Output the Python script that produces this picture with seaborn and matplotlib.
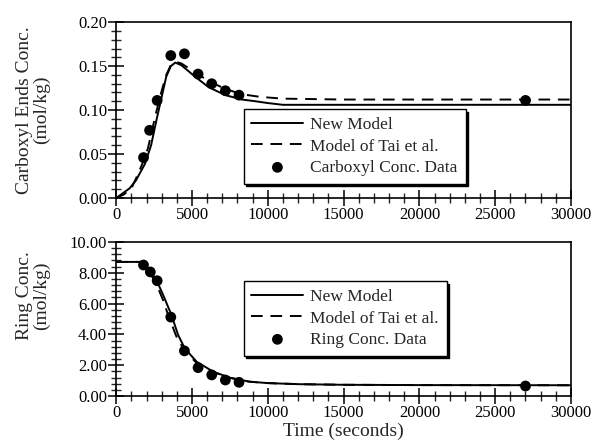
import numpy as np
import pandas as pd
import seaborn as sns
import matplotlib.pyplot as plt
from matplotlib.ticker import MultipleLocator, FormatStrFormatter

sns.set_style("ticks")
plt.rcParams['font.family'] = ['Liberation Serif', 'DejaVu Serif']

# carboxyl ends, new model (solid)
carb_new_t = [0, 880, 1300, 1900, 2300, 2660, 3000, 3300, 3600, 3900, 4300, 5200,
              6100, 7200, 8300, 9200, 10000, 11000, 30000]
carb_new_c = [0.0, 0.011, 0.020, 0.039, 0.060, 0.089, 0.115, 0.138, 0.150, 0.154,
              0.151, 0.138, 0.126, 0.117, 0.112, 0.110, 0.108, 0.106, 0.106]
# carboxyl ends, model of Tai et al. (dashed)
carb_tai_t = [0, 500, 1000, 1300, 1700, 2100, 2600, 3000, 3300, 3600, 3900, 4300,
              5200, 6100, 7200, 8300, 9500, 11000, 15000, 30000]
carb_tai_c = [0.0, 0.004, 0.011, 0.022, 0.038, 0.057, 0.095, 0.122, 0.140, 0.151,
              0.155, 0.153, 0.143, 0.133, 0.124, 0.118, 0.115, 0.113, 0.112, 0.112]
# carboxyl data
carb_data_t = [1800, 2200, 2700, 3600, 4500, 5400, 6300, 7200, 8100, 27000]
carb_data_c = [0.046, 0.077, 0.111, 0.162, 0.164, 0.141, 0.130, 0.122, 0.117, 0.111]

# ring conc., new model
ring_new_t = [0, 1600, 2000, 2430, 2800, 3090, 3640, 4080, 4520, 5300, 6400, 7500,
              8800, 10000, 12000, 15000, 20000, 30000]
ring_new_c = [8.70, 8.70, 8.35, 7.87, 7.20, 6.57, 5.27, 3.97, 3.10, 2.23, 1.58, 1.19,
              0.93, 0.84, 0.77, 0.73, 0.71, 0.70]
# ring conc., Tai et al.
ring_tai_t = [0, 1600, 2000, 2400, 2760, 3100, 3420, 3970, 4500, 5300, 6400, 7500,
              8800, 10000, 12000, 15000, 20000, 30000]
ring_tai_c = [8.70, 8.70, 8.30, 7.70, 7.00, 6.20, 5.27, 3.86, 2.95, 2.15, 1.55, 1.18,
              0.93, 0.84, 0.77, 0.73, 0.71, 0.70]
# ring data
ring_data_t = [1800, 2250, 2700, 3600, 4500, 5400, 6300, 7200, 8100, 27000]
ring_data_c = [8.50, 8.05, 7.48, 5.12, 2.93, 1.84, 1.37, 1.04, 0.89, 0.65]

fig = plt.figure(figsize=(5.96, 4.43), dpi=100)
ax1 = fig.add_axes([0.195, 0.553, 0.763, 0.397])
ax2 = fig.add_axes([0.195, 0.106, 0.763, 0.348])

dash = (0, (6, 4))


def draw(ax, t_new, c_new, t_tai, c_tai, t_dat, c_dat, data_label):
    sns.lineplot(x=t_new, y=c_new, ax=ax, color='black', lw=1.4, label='New Model')
    sns.lineplot(x=t_tai, y=c_tai, ax=ax, color='black', lw=1.4, linestyle=dash,
                 label='Model of Tai et al.')
    sns.scatterplot(x=t_dat, y=c_dat, ax=ax, color='black', s=60, edgecolor='none',
                    label=data_label, zorder=3)
    ax.set_xlim(0, 30000)
    ax.xaxis.set_major_locator(MultipleLocator(5000))
    ax.xaxis.set_minor_locator(MultipleLocator(1000))
    ax.xaxis.set_major_formatter(FormatStrFormatter('%d'))
    ax.tick_params(which='major', direction='inout', length=11, width=1.1,
                   labelsize=12, pad=1, colors='black')
    ax.tick_params(which='minor', direction='inout', length=7, width=1.0)
    for s in ax.spines.values():
        s.set_linewidth(1.2)
        s.set_color('black')
    leg = ax.legend(fontsize=12.5, frameon=True, fancybox=False, edgecolor='black',
                    framealpha=1, shadow={'color': 'black', 'alpha': 1},
                    handlelength=3, labelspacing=0.3, borderpad=0.45,
                    handletextpad=0.4, borderaxespad=0, loc='upper left')
    leg.get_frame().set_linewidth(1.0)
    return leg


leg1 = draw(ax1, carb_new_t, carb_new_c, carb_tai_t, carb_tai_c,
            carb_data_t, carb_data_c, 'Carboxyl Conc. Data')
leg1.set_bbox_to_anchor((0.28, 0.505), transform=ax1.transAxes)
ax1.set_ylim(0, 0.20)
ax1.yaxis.set_major_locator(MultipleLocator(0.05))
ax1.yaxis.set_minor_locator(MultipleLocator(0.01))
ax1.yaxis.set_major_formatter(FormatStrFormatter('%.2f'))
ax1.set_ylabel('Carboxyl Ends Conc.\n(mol/kg)', fontsize=14, linespacing=1.0)
ax1.yaxis.set_label_coords(-0.145, 0.5)

leg2 = draw(ax2, ring_new_t, ring_new_c, ring_tai_t, ring_tai_c,
            ring_data_t, ring_data_c, 'Ring Conc. Data')
leg2.set_bbox_to_anchor((0.28, 0.745), transform=ax2.transAxes)
ax2.set_ylim(0, 10)
ax2.yaxis.set_major_locator(MultipleLocator(2))
ax2.yaxis.set_minor_locator(MultipleLocator(0.4))
ax2.yaxis.set_major_formatter(FormatStrFormatter('%.2f'))
ax2.set_ylabel('Ring Conc.\n(mol/kg)', fontsize=14, linespacing=1.0)
ax2.yaxis.set_label_coords(-0.145, 0.65)
ax2.set_xlabel('Time (seconds)', fontsize=14, labelpad=1)

fig.savefig('out.png', dpi=100)
